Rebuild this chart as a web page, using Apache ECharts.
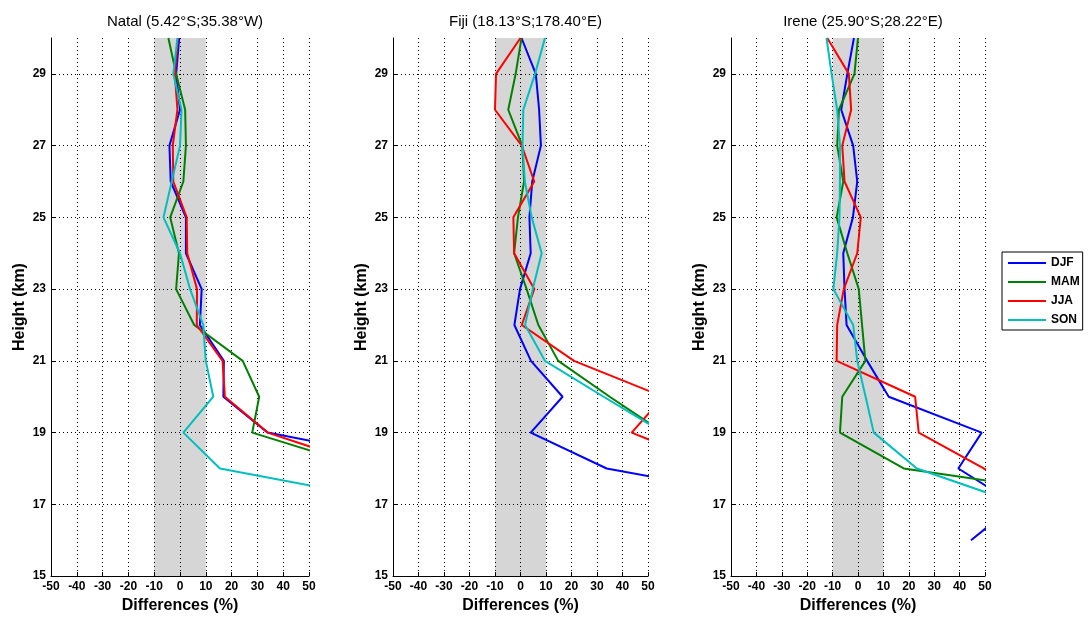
<!DOCTYPE html>
<html>
<head>
<meta charset="utf-8">
<title>Differences (%)</title>
<script src="https://cdn.jsdelivr.net/npm/echarts@6/dist/echarts.min.js"></script>
<style>
  html, body { margin: 0; padding: 0; background: #fff; }
  #chart { width: 1089px; height: 619px; }
</style>
</head>
<body>
<div id="chart"></div>
<script>
// heights (km), shared by all panels
let heights = [30, 29, 28, 27, 26, 25, 24, 23, 22, 21, 20, 19, 18, 17, 16];

// Natal
let natalDJF = [-0.3, -1.5, 0, -4.1, -3.6, 2.3, 2.3, 8.4, 7.7, 17, 16.8, 34, 106, null, null];
let natalMAM = [-4.5, -1.5, 2, 2.3, 1.3, -3.8, -0.4, -1.5, 5.5, 24.3, 30.7, 28, 73, null, null];
let natalJJA = [-0.8, -2, -1, -2.8, -2.6, 2.6, 2.8, 6.6, 6.5, 16.5, 17.4, 34, 76, null, null];
let natalSON = [-1, -2.6, 0.6, 0, -3.2, -6.4, 0, 3.9, 9, 10, 12.9, 1.3, 15.5, 89, null];

// Fiji
let fijiDJF = [0.4, 6, 7.3, 8, 4.6, 3.5, 4, -0.2, -2.4, 4.1, 16.5, 4, 33.8, 111, null];
let fijiMAM = [0.4, -1.9, -4.8, 0.7, 1.4, -1, -2.5, 2.4, 7, 14.8, 35, 56, null, null, null];
let fijiJJA = [0, -9.6, -10, 0.5, 5.4, -2.8, -2.5, 5.4, 0.5, 21, 56, 43.6, 78.6, null, null];
let fijiSON = [9.6, 5.7, 1.1, 0.8, 1.7, 4.4, 8.3, 4.8, 1.8, 9.6, 32.6, 56, null, null, null];

// Irene
let ireneDJF = [-1.6, -4.2, -6.6, -1.9, -0.3, -2, -5.8, -5.3, -4.5, 3.6, 12.1, 48.7, 39.5, 62, 44.5];
let ireneMAM = [0, -1.4, -7.5, -8.2, -5.8, -8.4, -4.2, 0.3, 1.6, 2.9, -6.2, -7.1, 18, 115, null];
let ireneJJA = [-12.1, -3.6, -2.7, -6.2, -5.3, 1.1, -0.3, -5.6, -8.2, -8.4, 22.5, 23.9, 49.5, 80, null];
let ireneSON = [-12.4, -10.4, -8.2, -7.1, -7.1, -7.3, -8.2, -9.7, -1.9, -0.3, 3, 6.2, 23.2, 64, null];

let seasons = ["DJF", "MAM", "JJA", "SON"];
let colors = ["#0000FF", "#008000", "#FF0000", "#00BFBF"];
let titles = ["Natal (5.42°S;35.38°W)", "Fiji (18.13°S;178.40°E)", "Irene (25.90°S;28.22°E)"];
let panelData = [
  [natalDJF, natalMAM, natalJJA, natalSON],
  [fijiDJF, fijiMAM, fijiJJA, fijiSON],
  [ireneDJF, ireneMAM, ireneJJA, ireneSON]
];
let band = [-10, 10];

let font = "Liberation Sans, Arial, sans-serif";
let grids = [
  { left: 51, top: 38, width: 258, height: 540 },
  { left: 393, top: 38, width: 255, height: 540 },
  { left: 731, top: 38, width: 254, height: 540 }
];

function toPairs(vals) {
  let out = [];
  vals.forEach(function (v, i) {
    if (v != null) out.push([v, heights[i]]);
  });
  return out;
}

let xAxes = [];
let yAxes = [];
let series = [];
let titleList = [];

grids.forEach(function (g, p) {
  titleList.push({
    text: titles[p],
    left: g.left + g.width / 2,
    top: 9,
    textAlign: "center",
    textStyle: { fontFamily: font, fontSize: 15, fontWeight: "normal", color: "#000" }
  });
  xAxes.push({
    gridIndex: p,
    type: "value",
    min: -50,
    max: 50,
    interval: 10,
    z: 2,
    name: "Differences (%)",
    nameLocation: "middle",
    nameGap: 20,
    nameTextStyle: { fontFamily: font, fontSize: 16, fontWeight: "bold", color: "#000" },
    axisLine: { onZero: false, lineStyle: { color: "#000", width: 1 } },
    axisTick: { show: true, inside: true, length: 4, lineStyle: { color: "#000" } },
    axisLabel: { fontFamily: font, fontSize: 12, fontWeight: "bold", color: "#000", margin: 5 },
    splitLine: {
      show: true,
      showMinLine: false,
      lineStyle: { color: "#000", width: 1, type: [1, 3] }
    }
  });
  yAxes.push({
    gridIndex: p,
    type: "value",
    min: 15,
    max: 30,
    interval: 2,
    z: 2,
    name: "Height (km)",
    nameLocation: "middle",
    nameGap: 23,
    nameTextStyle: { fontFamily: font, fontSize: 16, fontWeight: "bold", color: "#000" },
    axisLine: { onZero: false, lineStyle: { color: "#000", width: 1 } },
    axisTick: { show: true, inside: true, length: 4, lineStyle: { color: "#000" } },
    axisLabel: { fontFamily: font, fontSize: 12, fontWeight: "bold", color: "#000", margin: 5, showMaxLabel: false },
    splitLine: {
      show: true,
      showMinLine: false,
      showMaxLine: false,
      lineStyle: { color: "#000", width: 1, type: [1, 3] }
    }
  });
  // grey +-10% band
  series.push({
    name: "band" + p,
    type: "line",
    xAxisIndex: p,
    yAxisIndex: p,
    data: [],
    silent: true,
    markArea: {
      silent: true,
      z: 1,
      itemStyle: { color: "#d6d6d6" },
      data: [[{ xAxis: band[0] }, { xAxis: band[1] }]]
    }
  });
  panelData[p].forEach(function (vals, s) {
    series.push({
      name: seasons[s],
      type: "line",
      xAxisIndex: p,
      yAxisIndex: p,
      z: 3,
      symbol: "none",
      clip: true,
      lineStyle: { width: 2, color: colors[s] },
      itemStyle: { color: colors[s] },
      data: toPairs(vals)
    });
  });
});

let option = {
  backgroundColor: "#fff",
  animation: false,
  title: titleList,
  legend: {
    data: seasons,
    orient: "vertical",
    left: 1002,
    top: 252,
    icon: "rect",
    itemWidth: 38,
    itemHeight: 2,
    itemGap: 5,
    padding: [4, 3, 3, 6],
    borderColor: "#000",
    borderWidth: 1,
    textStyle: { fontFamily: font, fontSize: 12, fontWeight: "bold", color: "#000", lineHeight: 14 }
  },
  grid: grids,
  xAxis: xAxes,
  yAxis: yAxes,
  series: series
};

let chart = echarts.init(document.getElementById("chart"));
chart.setOption(option);
</script>
</body>
</html>
